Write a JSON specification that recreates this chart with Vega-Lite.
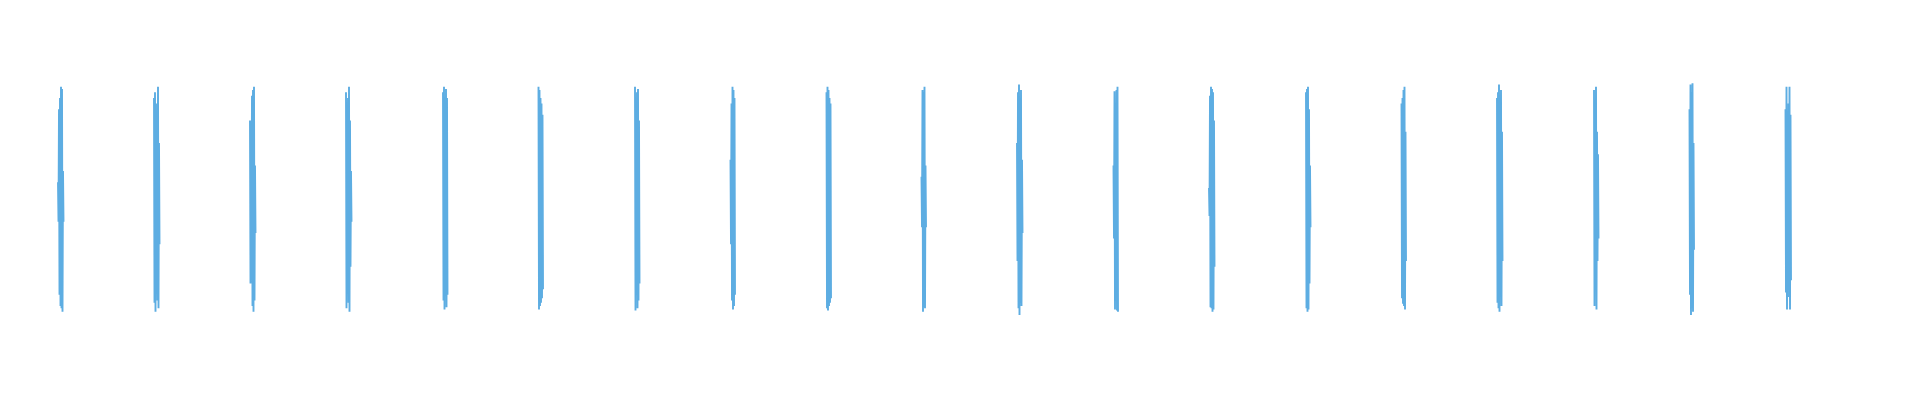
{
  "$schema": "https://vega.github.io/schema/vega-lite/v6.json",
  "width": 1920,
  "height": 400,
  "padding": 0,
  "autosize": {"type": "fit", "contains": "padding"},
  "config": {"view": {"stroke": null}},
  "background": "white",
  "data": {"values": [
    {"g":0,"x":58,"y":0.15},{"g":0,"x":58.5,"y":-0.2},{"g":0,"x":59,"y":0.8},{"g":0,"x":59.5,"y":-0.85},{"g":0,"x":60,"y":0.9},{"g":0,"x":60.5,"y":-0.95},{"g":0,"x":61,"y":1.0},{"g":0,"x":61.5,"y":-0.97},{"g":0,"x":62,"y":0.98},{"g":0,"x":62.5,"y":-1.0},{"g":0,"x":63,"y":0.25},{"g":0,"x":63.5,"y":-0.2},
    {"g":1,"x":154,"y":0.9},{"g":1,"x":154.5,"y":-0.92},{"g":1,"x":155,"y":0.95},{"g":1,"x":155.5,"y":-1.0},{"g":1,"x":156,"y":0.3},{"g":1,"x":156.5,"y":-0.35},{"g":1,"x":157,"y":0.85},{"g":1,"x":157.5,"y":-0.9},{"g":1,"x":158,"y":1.0},{"g":1,"x":158.5,"y":-0.97},{"g":1,"x":159,"y":0.5},{"g":1,"x":159.5,"y":-0.4},
    {"g":2,"x":250,"y":0.7},{"g":2,"x":250.5,"y":-0.75},{"g":2,"x":251,"y":0.2},{"g":2,"x":251.5,"y":-0.15},{"g":2,"x":252,"y":0.92},{"g":2,"x":252.5,"y":-0.95},{"g":2,"x":253,"y":0.97},{"g":2,"x":253.5,"y":-1.0},{"g":2,"x":254,"y":1.0},{"g":2,"x":254.5,"y":-0.9},{"g":2,"x":255,"y":0.3},{"g":2,"x":255.5,"y":-0.3},
    {"g":3,"x":346,"y":0.95},{"g":3,"x":346.5,"y":-0.97},{"g":3,"x":347,"y":0.1},{"g":3,"x":347.5,"y":-0.1},{"g":3,"x":348,"y":0.9},{"g":3,"x":348.5,"y":-0.92},{"g":3,"x":349,"y":1.0},{"g":3,"x":349.5,"y":-1.0},{"g":3,"x":350,"y":0.7},{"g":3,"x":350.5,"y":-0.6},{"g":3,"x":351,"y":0.25},{"g":3,"x":351.5,"y":-0.2},
    {"g":4,"x":443,"y":0.95},{"g":4,"x":443.5,"y":-0.9},{"g":4,"x":444,"y":1.0},{"g":4,"x":444.5,"y":-0.98},{"g":4,"x":445,"y":0.6},{"g":4,"x":445.5,"y":-0.7},{"g":4,"x":446,"y":0.98},{"g":4,"x":446.5,"y":-0.96},{"g":4,"x":447,"y":0.9},{"g":4,"x":447.5,"y":-0.85},
    {"g":5,"x":538.5,"y":1.0},{"g":5,"x":539,"y":-0.98},{"g":5,"x":539.5,"y":0.97},{"g":5,"x":540,"y":-0.95},{"g":5,"x":540.5,"y":0.9},{"g":5,"x":541,"y":-0.92},{"g":5,"x":541.5,"y":0.85},{"g":5,"x":542,"y":-0.88},{"g":5,"x":542.5,"y":0.75},{"g":5,"x":543,"y":-0.8},
    {"g":6,"x":635,"y":1.0},{"g":6,"x":635.5,"y":-0.99},{"g":6,"x":636,"y":0.4},{"g":6,"x":636.5,"y":-0.45},{"g":6,"x":637,"y":0.95},{"g":6,"x":637.5,"y":-0.97},{"g":6,"x":638,"y":0.98},{"g":6,"x":638.5,"y":-0.9},{"g":6,"x":639,"y":0.7},{"g":6,"x":639.5,"y":-0.75},
    {"g":7,"x":730.5,"y":0.35},{"g":7,"x":731,"y":-0.4},{"g":7,"x":731.5,"y":0.85},{"g":7,"x":732,"y":-0.9},{"g":7,"x":732.5,"y":1.0},{"g":7,"x":733,"y":-0.98},{"g":7,"x":733.5,"y":0.97},{"g":7,"x":734,"y":-0.95},{"g":7,"x":734.5,"y":0.9},{"g":7,"x":735,"y":-0.85},
    {"g":8,"x":826.5,"y":0.95},{"g":8,"x":827,"y":-0.97},{"g":8,"x":827.5,"y":1.0},{"g":8,"x":828,"y":-0.99},{"g":8,"x":828.5,"y":0.97},{"g":8,"x":829,"y":-0.95},{"g":8,"x":829.5,"y":0.9},{"g":8,"x":830,"y":-0.92},{"g":8,"x":830.5,"y":0.85},{"g":8,"x":831,"y":-0.88},
    {"g":9,"x":921.5,"y":0.2},{"g":9,"x":922,"y":-0.25},{"g":9,"x":922.5,"y":0.97},{"g":9,"x":923,"y":-1.0},{"g":9,"x":923.5,"y":0.95},{"g":9,"x":924,"y":-0.96},{"g":9,"x":924.5,"y":1.0},{"g":9,"x":925,"y":-0.97},{"g":9,"x":925.5,"y":0.3},{"g":9,"x":926,"y":-0.25},
    {"g":10,"x":1017,"y":0.5},{"g":10,"x":1017.5,"y":-0.55},{"g":10,"x":1018,"y":0.95},{"g":10,"x":1018.5,"y":-0.97},{"g":10,"x":1019,"y":1.02},{"g":10,"x":1019.5,"y":-1.03},{"g":10,"x":1020,"y":0.9},{"g":10,"x":1020.5,"y":-0.92},{"g":10,"x":1021,"y":0.97},{"g":10,"x":1021.5,"y":-0.95},{"g":10,"x":1022,"y":0.35},{"g":10,"x":1022.5,"y":-0.3},
    {"g":11,"x":1113.5,"y":0.3},{"g":11,"x":1114,"y":-0.35},{"g":11,"x":1114.5,"y":0.96},{"g":11,"x":1115,"y":-0.98},{"g":11,"x":1115.5,"y":0.2},{"g":11,"x":1116,"y":-0.15},{"g":11,"x":1116.5,"y":0.97},{"g":11,"x":1117,"y":-0.99},{"g":11,"x":1117.5,"y":1.0},{"g":11,"x":1118,"y":-1.0},
    {"g":12,"x":1209,"y":0.1},{"g":12,"x":1209.5,"y":-0.15},{"g":12,"x":1210,"y":0.92},{"g":12,"x":1210.5,"y":-0.96},{"g":12,"x":1211,"y":1.0},{"g":12,"x":1211.5,"y":-0.97},{"g":12,"x":1212,"y":0.98},{"g":12,"x":1212.5,"y":-1.0},{"g":12,"x":1213,"y":0.95},{"g":12,"x":1213.5,"y":-0.98},{"g":12,"x":1214,"y":0.7},{"g":12,"x":1214.5,"y":-0.6},
    {"g":13,"x":1306,"y":0.95},{"g":13,"x":1306.5,"y":-0.97},{"g":13,"x":1307,"y":0.98},{"g":13,"x":1307.5,"y":-1.0},{"g":13,"x":1308,"y":1.0},{"g":13,"x":1308.5,"y":-0.98},{"g":13,"x":1309,"y":0.8},{"g":13,"x":1309.5,"y":-0.75},{"g":13,"x":1310,"y":0.3},{"g":13,"x":1310.5,"y":-0.25},
    {"g":14,"x":1401.5,"y":0.85},{"g":14,"x":1402,"y":-0.88},{"g":14,"x":1402.5,"y":0.9},{"g":14,"x":1403,"y":-0.93},{"g":14,"x":1403.5,"y":0.97},{"g":14,"x":1404,"y":-0.95},{"g":14,"x":1404.5,"y":1.0},{"g":14,"x":1405,"y":-0.98},{"g":14,"x":1405.5,"y":0.6},{"g":14,"x":1406,"y":-0.55},
    {"g":15,"x":1497,"y":0.9},{"g":15,"x":1497.5,"y":-0.92},{"g":15,"x":1498,"y":0.95},{"g":15,"x":1498.5,"y":-0.97},{"g":15,"x":1499,"y":1.02},{"g":15,"x":1499.5,"y":-1.0},{"g":15,"x":1500,"y":0.2},{"g":15,"x":1500.5,"y":-0.2},{"g":15,"x":1501,"y":0.97},{"g":15,"x":1501.5,"y":-0.95},{"g":15,"x":1502,"y":0.6},{"g":15,"x":1502.5,"y":-0.55},
    {"g":16,"x":1594,"y":0.97},{"g":16,"x":1594.5,"y":-0.95},{"g":16,"x":1595,"y":0.85},{"g":16,"x":1595.5,"y":-0.8},{"g":16,"x":1596,"y":1.0},{"g":16,"x":1596.5,"y":-0.98},{"g":16,"x":1597,"y":0.6},{"g":16,"x":1597.5,"y":-0.55},{"g":16,"x":1598,"y":0.4},{"g":16,"x":1598.5,"y":-0.35},
    {"g":17,"x":1689.5,"y":0.8},{"g":17,"x":1690,"y":-0.85},{"g":17,"x":1690.5,"y":1.02},{"g":17,"x":1691,"y":-1.03},{"g":17,"x":1691.5,"y":0.95},{"g":17,"x":1692,"y":-0.97},{"g":17,"x":1692.5,"y":1.03},{"g":17,"x":1693,"y":-1.0},{"g":17,"x":1693.5,"y":0.5},{"g":17,"x":1694,"y":-0.45},
    {"g":18,"x":1785.5,"y":0.8},{"g":18,"x":1786,"y":-0.83},{"g":18,"x":1786.5,"y":1.0},{"g":18,"x":1787,"y":-0.98},{"g":18,"x":1787.5,"y":0.6},{"g":18,"x":1788,"y":-0.6},{"g":18,"x":1788.5,"y":0.85},{"g":18,"x":1789,"y":-0.87},{"g":18,"x":1789.5,"y":1.0},{"g":18,"x":1790,"y":-0.98},{"g":18,"x":1790.5,"y":0.75},{"g":18,"x":1791,"y":-0.72}
  ]},
  "mark": {"type": "line", "color": "#5dade2", "strokeWidth": 1.9, "clip": true},
  "encoding": {
    "x": {"field": "x", "type": "quantitative", "scale": {"domain": [0, 1920], "nice": false, "zero": false}, "axis": null},
    "y": {"field": "y", "type": "quantitative", "scale": {"domain": [-1.785, 1.771], "nice": false, "zero": false}, "axis": null},
    "detail": {"field": "g", "type": "nominal"}
  }
}
